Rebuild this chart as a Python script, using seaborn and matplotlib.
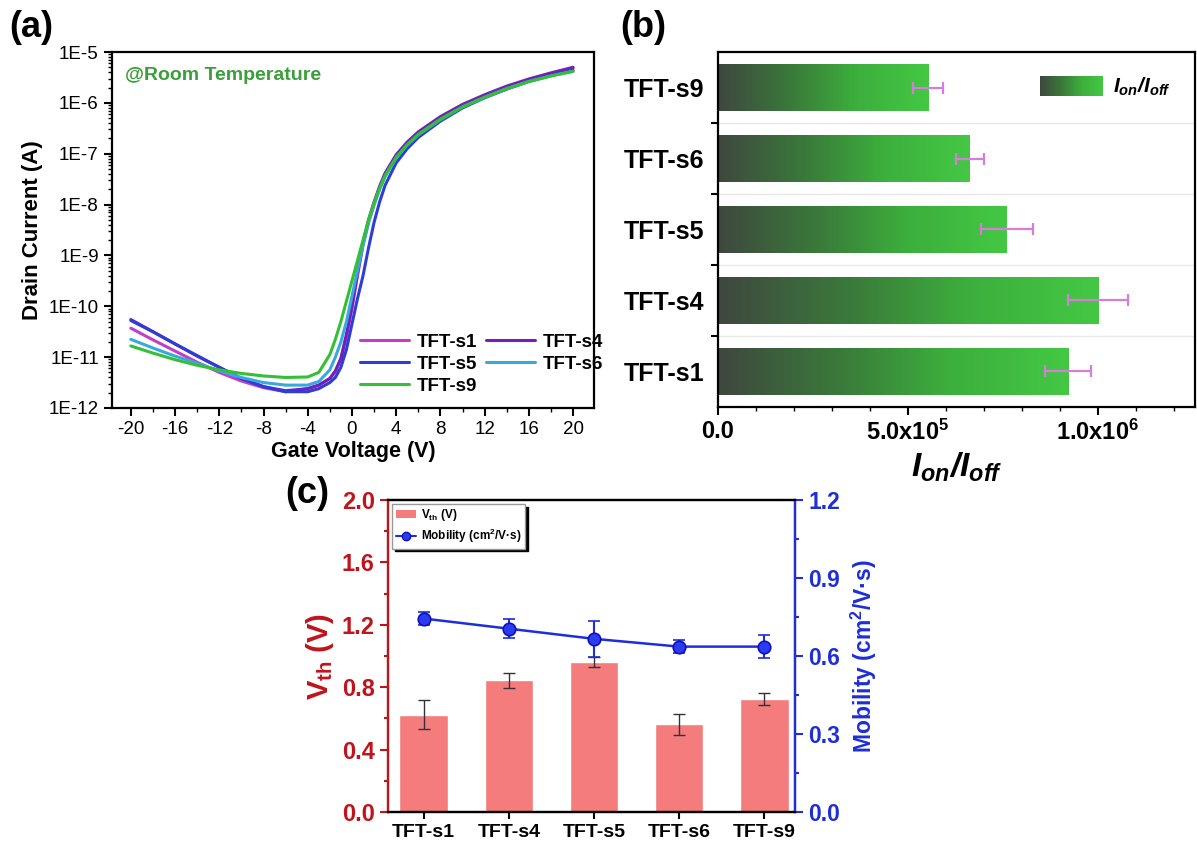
import numpy as np
import pandas as pd
import matplotlib
matplotlib.use("Agg")
import matplotlib.pyplot as plt
import seaborn as sns
from matplotlib.colors import LinearSegmentedColormap
from matplotlib.legend_handler import HandlerBase
from matplotlib.image import BboxImage
from matplotlib.transforms import Bbox, TransformedBbox
from matplotlib.patches import Patch
from matplotlib.lines import Line2D
from matplotlib.ticker import (FixedLocator, MultipleLocator, LogLocator,
                               FuncFormatter, NullFormatter)

# ---------------- data ----------------
# panel (a): transfer curves, log10(Id [A]) vs gate voltage
gate_v = [-20, -18, -16, -14, -12, -10, -8, -6, -4, -3, -2, -1.5, -1, -0.5, 0,
          0.5, 1, 1.5, 2, 2.5, 3, 4, 5, 6, 8, 10, 12, 14, 16, 18, 20]
s1_log = [-10.43, -10.66, -10.88, -11.10, -11.30, -11.47, -11.60, -11.68, -11.62,
          -11.55, -11.42, -11.28, -11.05, -10.60, -10.05, -9.40, -8.80, -8.35,
          -8.00, -7.68, -7.42, -7.05, -6.80, -6.60, -6.30, -6.05, -5.86, -5.69,
          -5.55, -5.43, -5.32]
s4_log = [-10.26, -10.50, -10.74, -10.98, -11.20, -11.42, -11.58, -11.66, -11.62,
          -11.55, -11.42, -11.27, -11.02, -10.55, -10.00, -9.35, -8.75, -8.30,
          -7.95, -7.64, -7.38, -7.02, -6.77, -6.57, -6.27, -6.03, -5.84, -5.67,
          -5.53, -5.41, -5.30]
s5_log = [-10.28, -10.50, -10.74, -10.97, -11.20, -11.42, -11.58, -11.68, -11.68,
          -11.62, -11.50, -11.40, -11.20, -10.85, -10.35, -9.85, -9.40, -8.85,
          -8.35, -7.95, -7.62, -7.18, -6.90, -6.68, -6.36, -6.10, -5.90, -5.73,
          -5.58, -5.46, -5.36]
s6_log = [-10.65, -10.82, -10.98, -11.12, -11.27, -11.40, -11.50, -11.55, -11.55,
          -11.48, -11.25, -11.00, -10.70, -10.30, -9.80, -9.30, -8.80, -8.35,
          -8.00, -7.70, -7.45, -7.08, -6.83, -6.63, -6.33, -6.08, -5.89, -5.72,
          -5.58, -5.47, -5.38]
s9_log = [-10.78, -10.92, -11.05, -11.16, -11.25, -11.32, -11.37, -11.40, -11.39,
          -11.30, -10.95, -10.65, -10.30, -9.90, -9.50, -9.10, -8.70, -8.30,
          -7.97, -7.68, -7.43, -7.07, -6.82, -6.62, -6.32, -6.08, -5.89, -5.72,
          -5.58, -5.47, -5.38]
device_names = ["TFT-s1", "TFT-s4", "TFT-s5", "TFT-s6", "TFT-s9"]
curves = [s1_log, s4_log, s5_log, s6_log, s9_log]
line_colors = ["#c23ec6", "#7420b8", "#2c3ed6", "#38a8e0", "#34c034"]

# panel (b): on/off ratio
b_samples = ["TFT-s9", "TFT-s6", "TFT-s5", "TFT-s4", "TFT-s1"]
onoff = [0.553e6, 0.663e6, 0.760e6, 1.000e6, 0.921e6]
onoff_err = [0.040e6, 0.038e6, 0.068e6, 0.080e6, 0.060e6]

# panel (c): threshold voltage and mobility
c_samples = ["TFT-s1", "TFT-s4", "TFT-s5", "TFT-s6", "TFT-s9"]
vth = [0.623, 0.843, 0.962, 0.562, 0.724]
vth_err = [0.092, 0.050, 0.032, 0.068, 0.040]
mobility = [0.744, 0.705, 0.666, 0.636, 0.636]
mobility_err = [0.025, 0.036, 0.068, 0.026, 0.045]

# ---------------- style ----------------
sns.set_theme(style="ticks")
plt.rcParams["font.family"] = ["Liberation Sans", "DejaVu Sans"]
plt.rcParams["mathtext.default"] = "regular"
plt.rcParams["axes.unicode_minus"] = False
for k in ["text.color", "axes.labelcolor", "xtick.color", "ytick.color", "axes.edgecolor"]:
    plt.rcParams[k] = "black"

fig = plt.figure(figsize=(11.97, 8.5), dpi=100)
axa = fig.add_axes([0.0936, 0.520, 0.4027, 0.4188])
axb = fig.add_axes([0.5998, 0.5212, 0.3985, 0.4176])
axc = fig.add_axes([0.3241, 0.0447, 0.3400, 0.3671])

# ---------------- panel (a) ----------------
rows = []
for name, vals in zip(device_names, curves):
    for v, l in zip(gate_v, vals):
        rows.append((name, v, 10.0 ** l))
dfa = pd.DataFrame(rows, columns=["device", "Vg", "Id"])
sns.lineplot(data=dfa, x="Vg", y="Id", hue="device", hue_order=device_names,
             palette=dict(zip(device_names, line_colors)), sort=False,
             estimator=None, lw=2.2, ax=axa, legend=False)
axa.set_yscale("log")
axa.set_ylim(1e-12, 1e-5)
axa.set_xlim(-21.7, 21.9)
axa.xaxis.set_major_locator(MultipleLocator(4))
axa.xaxis.set_minor_locator(MultipleLocator(2))
axa.yaxis.set_major_locator(LogLocator(base=10, numticks=20))
axa.yaxis.set_minor_locator(LogLocator(base=10, subs=np.arange(2, 10), numticks=20))
axa.yaxis.set_major_formatter(FuncFormatter(lambda v, p: f"1E{int(np.round(np.log10(v)))}"))
axa.yaxis.set_minor_formatter(NullFormatter())
axa.tick_params(which="major", direction="out", length=6, width=1.5, labelsize=13.5)
axa.tick_params(which="minor", direction="out", length=3, width=1.0)
axa.set_xlabel("Gate Voltage (V)", fontsize=15.5, fontweight="bold", labelpad=2)
axa.set_ylabel("Drain Current (A)", fontsize=16, fontweight="bold", labelpad=4)
for s in axa.spines.values():
    s.set_linewidth(1.6)
axa.text(0.027, 0.935, "@Room Temperature", transform=axa.transAxes, color="#3a9e3a",
         fontsize=14, fontweight="bold", va="center")
order_idx = [0, 2, 4, 1, 3]
handles = [Line2D([0], [0], color=line_colors[i], lw=2.2) for i in order_idx]
labels = [device_names[i] for i in order_idx]
axa.legend(handles, labels, ncol=2, loc="lower left", bbox_to_anchor=(0.48, -0.01),
           frameon=False, prop={"weight": "bold", "size": 13.5}, handlelength=2.6,
           columnspacing=0.5, labelspacing=0.25, handletextpad=0.4)

# ---------------- panel (b) ----------------
gcmap = LinearSegmentedColormap.from_list(
    "gbar", [(0.0, "#3f473f"), (0.35, "#3a7a3a"), (0.65, "#3cae3c"), (1.0, "#44c844")])
grad = np.linspace(0, 1, 256).reshape(1, -1)

dfb = pd.DataFrame({"sample": b_samples, "ratio": onoff})
sns.barplot(data=dfb, y="sample", x="ratio", order=b_samples, orient="h",
            color="#44c844", saturation=1, width=0.66, ax=axb)
for p in list(axb.patches):
    x0, y0, w, h = p.get_x(), p.get_y(), p.get_width(), p.get_height()
    im = axb.imshow(grad, extent=[x0, x0 + w, y0, y0 + h], aspect="auto", cmap=gcmap,
                    interpolation="bilinear", zorder=p.get_zorder() + 0.1)
    im.set_clip_path(p)
axb.errorbar(onoff, np.arange(len(b_samples)), xerr=onoff_err, fmt="none",
             ecolor="#d57ddb", elinewidth=1.6, capsize=4, capthick=1.6, zorder=5)
axb.set_xlim(0, 1.255e6)
axb.set_ylim(len(b_samples) - 0.5, -0.5)
axb.set_xticks([0, 5e5, 1e6], ["0.0", "5.0x10$^5$", "1.0x10$^6$"],
               fontsize=17, fontweight="bold")
axb.xaxis.set_minor_locator(MultipleLocator(1e5))
axb.set_yticks(np.arange(len(b_samples)), b_samples, fontsize=18, fontweight="bold")
axb.yaxis.set_minor_locator(FixedLocator(np.arange(0.5, len(b_samples) - 0.5, 1.0)))
axb.grid(which="minor", axis="y", color="#e8e8e8", lw=1.0)
axb.set_axisbelow(True)
axb.tick_params(axis="y", which="major", length=0, pad=10)
axb.tick_params(axis="y", which="minor", length=5, width=1.5, direction="out")
axb.tick_params(axis="x", which="major", length=6, width=1.5, direction="out")
axb.tick_params(axis="x", which="minor", length=3, width=1.0, direction="out")
axb.set_xlabel("$I_{on}/I_{off}$", fontsize=24, fontweight="bold", style="italic", labelpad=4)
axb.set_ylabel("")
for s in axb.spines.values():
    s.set_linewidth(1.6)


class GradKey:
    pass


class GradHandler(HandlerBase):
    def create_artists(self, legend, orig_handle, xdescent, ydescent, width, height,
                       fontsize, trans):
        bb = TransformedBbox(Bbox.from_bounds(-xdescent, -ydescent, width, height), trans)
        img = BboxImage(bb, cmap=gcmap, interpolation="bilinear")
        img.set_data(grad)
        return [img]


axb.legend([GradKey()], ["$I_{on}/I_{off}$"], handler_map={GradKey: GradHandler()},
           loc="upper right", bbox_to_anchor=(0.99, 0.985), frameon=False,
           prop={"weight": "bold", "style": "italic", "size": 15},
           handlelength=3.0, handleheight=1.1, handletextpad=0.5)

# ---------------- panel (c) ----------------
red = "#c0141c"
blue = "#1e2ed8"
bar_c = "#f47c7c"
dfc = pd.DataFrame({"sample": c_samples, "vth": vth})
sns.barplot(data=dfc, x="sample", y="vth", order=c_samples, color=bar_c,
            saturation=1, width=0.57, ax=axc)
axc.errorbar(np.arange(len(c_samples)), vth, yerr=vth_err, fmt="none", ecolor="#333333",
             elinewidth=1.0, capsize=4, capthick=1.0, zorder=5)
axc.set_xlim(-0.42, 4.36)
axc.set_ylim(0, 2.0)
axc.set_yticks(np.arange(0, 2.01, 0.4), [f"{v:.1f}" for v in np.arange(0, 2.01, 0.4)],
               fontsize=17, fontweight="bold")
axc.yaxis.set_minor_locator(MultipleLocator(0.2))
axc.set_xticks(np.arange(len(c_samples)), c_samples, fontsize=14, fontweight="bold")
axc.tick_params(axis="y", which="both", colors=red, direction="out", width=1.5)
axc.tick_params(axis="y", which="major", length=6)
axc.tick_params(axis="y", which="minor", length=3)
axc.tick_params(axis="x", which="major", length=5, width=1.5, direction="out")
axc.set_xlabel("")
axc.set_ylabel("V$_{th}$ (V)", color=red, fontsize=21, fontweight="bold", labelpad=4)
axc.spines["left"].set_color(red)
for s in axc.spines.values():
    s.set_linewidth(1.6)

ax2 = axc.twinx()
ax2.errorbar(np.arange(len(c_samples)), mobility, yerr=mobility_err, color=blue,
             marker="o", ms=9, mfc="#2b3cf0", mec="#1010b8", mew=1.2, lw=1.8,
             elinewidth=1.5, capsize=4, capthick=1.5, zorder=6)
ax2.set_ylim(0, 1.2)
ax2.set_yticks(np.arange(0, 1.21, 0.3), [f"{v:.1f}" for v in np.arange(0, 1.21, 0.3)],
               fontsize=16.5, fontweight="bold")
ax2.yaxis.set_minor_locator(MultipleLocator(0.15))
ax2.tick_params(axis="y", which="both", colors=blue, direction="out", width=1.5)
ax2.tick_params(axis="y", which="major", length=6)
ax2.tick_params(axis="y", which="minor", length=3)
ax2.set_ylabel("Mobility (cm$^2$/V·s)", color=blue, fontsize=16.5, fontweight="bold",
               labelpad=6)
ax2.spines["right"].set_color(blue)
ax2.spines["left"].set_color(red)
for s in ax2.spines.values():
    s.set_linewidth(1.6)
ax2.set_xlim(-0.42, 4.36)

leg_handles = [Patch(facecolor=bar_c, edgecolor="none"),
               Line2D([0], [0], color=blue, marker="o", ms=6, mfc="#2b3cf0",
                      mec="#1010b8", lw=1.5)]
ax2.legend(leg_handles, ["V$_{th}$ (V)", "Mobility (cm$^2$/V·s)"], loc="upper left",
           bbox_to_anchor=(0.005, 0.995), prop={"weight": "bold", "size": 8.5},
           frameon=True, fancybox=False, shadow={"color": "black", "alpha": 1},
           edgecolor="#999999", framealpha=1, borderpad=0.3, handlelength=1.7,
           handletextpad=0.4, labelspacing=0.3, borderaxespad=0.2)

# ---------------- panel labels ----------------
fig.text(0.008, 0.988, "(a)", fontsize=26, fontweight="bold", va="top")
fig.text(0.518, 0.988, "(b)", fontsize=26, fontweight="bold", va="top")
fig.text(0.238, 0.44, "(c)", fontsize=26, fontweight="bold", va="top")

fig.savefig("out.png", dpi=100)
